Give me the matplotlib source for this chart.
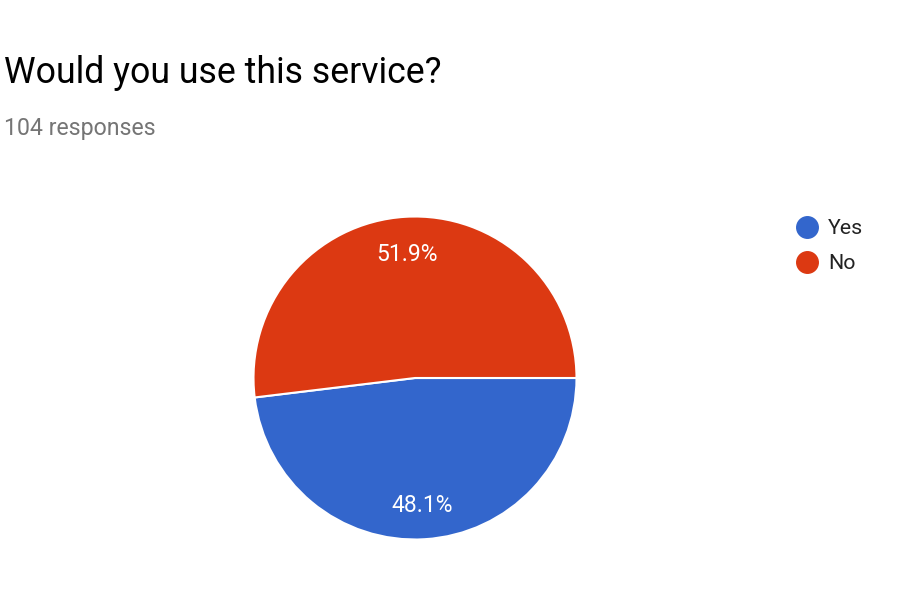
import matplotlib
matplotlib.use("Agg")
import matplotlib.pyplot as plt
from matplotlib.lines import Line2D

title = "Would you use this service?"
subtitle = "104 responses"
categories = ["Yes", "No"]
counts = [50, 54]
colors = ["#3366cc", "#dc3912"]

plt.rcParams['font.family'] = ['Roboto', 'DejaVu Sans']

W, H = 906, 604
fig = plt.figure(figsize=(W / 100, H / 100), dpi=100)
fig.patch.set_facecolor("white")

cx, cy, r = 415, 378, 161.5
ax = fig.add_axes([(cx - r) / W, (H - cy - r) / H, 2 * r / W, 2 * r / H])
wedges, texts, autotexts = ax.pie(counts, colors=colors, startangle=0, counterclock=False,
       autopct=lambda p: f"{p:.1f}%", pctdistance=0.78,
       wedgeprops=dict(edgecolor="white", linewidth=1.5),
       textprops=dict(color="white", fontsize=16.5), radius=1)
for t in autotexts:
    x0, y0 = t.get_position()
    t.set_position((x0, y0 - 2 / r))
ax.set_xlim(-1, 1)
ax.set_ylim(-1, 1)
ax.set_aspect("equal")
ax.axis("off")

fig.text(4 / W, 1 - 73 / H, title, fontsize=25.7, color="black", va="center", ha="left")
fig.text(4 / W, 1 - 128.5 / H, subtitle, fontsize=16.7, color="#757575", va="center", ha="left")

for i, (cat, col) in enumerate(zip(categories, colors)):
    y = 1 - (227 + i * 35) / H
    fig.add_artist(Line2D([806.5 / W], [y], marker="o", markersize=15.5, color=col,
                          linestyle="none", transform=fig.transFigure))
    fig.text(828 / W, y - 1.5 / H, cat, fontsize=15.4, color="#222222", va="center", ha="left")

fig.savefig("out.png", dpi=100)
